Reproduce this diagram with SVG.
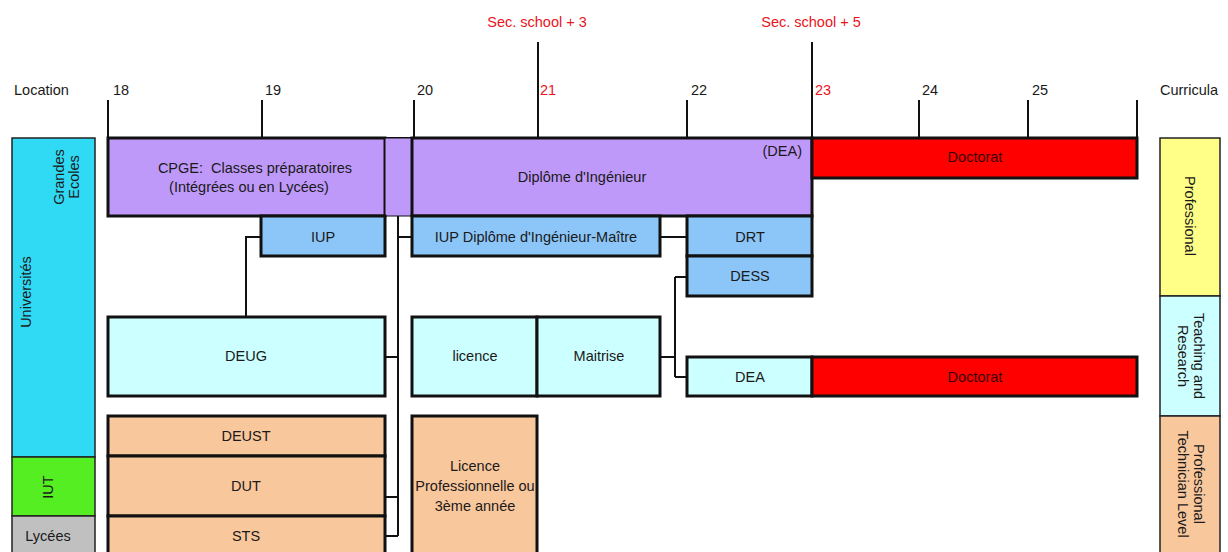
<svg xmlns="http://www.w3.org/2000/svg" width="1228" height="552" viewBox="0 0 1228 552">
<style>
text{font-family:"Liberation Sans",Arial,sans-serif;font-size:14.5px;fill:#1a1a1a}
.c{text-anchor:middle}
.pre{white-space:pre}
.red{fill:#e8141c}
.dr{fill:#3a0000}
.box{stroke:#111;stroke-width:3}
.side{stroke:#222;stroke-width:1.5}
.tick{stroke:#111;stroke-width:2;fill:none}
.con{stroke:#111;stroke-width:2;fill:none}
.purple{fill:#bf99f9}
.blue{fill:#8cc6f8}
.cyan{fill:#ccffff}
.peach{fill:#f9c79c}
.redf{fill:#ff0000}
</style>
<rect width="1228" height="552" fill="#fff"/>
<g id="axis">
<path class="tick" d="M108,138 H1137 M108,100 V138 M262,100 V138 M414,100 V138 M538,42 V138 M687,100 V138 M812,42 V138 M919,100 V138 M1028,100 V138 M1137,100 V138"/>
<text x="14" y="95">Location</text>
<text x="113" y="95">18</text>
<text x="265" y="95">19</text>
<text x="417" y="95">20</text>
<text x="540" y="95" class="red">21</text>
<text x="691" y="95">22</text>
<text x="815" y="95" class="red">23</text>
<text x="922" y="95">24</text>
<text x="1032" y="95">25</text>
<text x="1160" y="95">Curricula</text>
<text x="537" y="27" class="c red">Sec. school + 3</text>
<text x="811" y="27" class="c red">Sec. school + 5</text>
</g>
<g id="connectors">
<path class="con" d="M246,317 V237 H261"/>
<path class="con" d="M398,216 V536 M398,237 H412 M385,357 H398 M385,497 H398 M385,536 H398"/>
<path class="con" d="M660,237 H687"/>
<path class="con" d="M660,357 H675 M675,277 V377 M675,277 H687 M675,377 H687"/>
</g>
<g id="loc-universites">
<rect x="12" y="138" width="83" height="319" fill="#30daf5" class="side"/>
<text transform="translate(31,292) rotate(-90)" class="c">Universités</text>
<text transform="translate(64,177) rotate(-90)" class="c">Grandes</text>
<text transform="translate(79,177) rotate(-90)" class="c">Ecoles</text>
</g>
<g id="loc-iut">
<rect x="12" y="457" width="83" height="59" fill="#55ee22" class="side"/>
<text transform="translate(53,487) rotate(-90)" class="c">IUT</text>
</g>
<g id="loc-lycees">
<rect x="12" y="516" width="83" height="44" fill="#c0c0c0" class="side"/>
<text x="48" y="541" class="c">Lycées</text>
</g>
<g id="cpge">
<rect x="108" y="138" width="277" height="78" class="box purple"/>
<text x="255" y="173" class="c pre">CPGE:  Classes préparatoires</text>
<text x="249" y="192" class="c">(Intégrées ou en Lycées)</text>
</g>
<g id="purple-link">
<rect x="385" y="138" width="27" height="78" class="purple" stroke="#111" stroke-width="1"/>
</g>
<g id="diplome-ingenieur">
<rect x="412" y="138" width="400" height="78" class="box purple"/>
<text x="582" y="182" class="c">Diplôme d'Ingénieur</text>
<text x="802" y="156" text-anchor="end">(DEA)</text>
</g>
<g id="doctorat-1">
<rect x="812" y="138" width="325" height="40" class="box redf"/>
<text x="975" y="162" class="c dr">Doctorat</text>
</g>
<g id="iup">
<rect x="261" y="216" width="124" height="40" class="box blue"/>
<text x="323" y="242" class="c">IUP</text>
</g>
<g id="iup-dim">
<rect x="412" y="216" width="248" height="40" class="box blue"/>
<text x="536" y="242" class="c">IUP Diplôme d'Ingénieur-Maître</text>
</g>
<g id="drt">
<rect x="687" y="216" width="125" height="40" class="box blue"/>
<text x="750" y="242" class="c">DRT</text>
</g>
<g id="dess">
<rect x="687" y="256" width="125" height="40" class="box blue"/>
<text x="750" y="281" class="c">DESS</text>
</g>
<g id="deug">
<rect x="108" y="317" width="277" height="79" class="box cyan"/>
<text x="246" y="361" class="c">DEUG</text>
</g>
<g id="licence">
<rect x="412" y="317" width="125" height="79" class="box cyan"/>
<text x="475" y="361" class="c">licence</text>
</g>
<g id="maitrise">
<rect x="537" y="317" width="123" height="79" class="box cyan"/>
<text x="599" y="361" class="c">Maitrise</text>
</g>
<g id="dea">
<rect x="687" y="357" width="125" height="39" class="box cyan"/>
<text x="750" y="382" class="c">DEA</text>
</g>
<g id="doctorat-2">
<rect x="812" y="357" width="325" height="39" class="box redf"/>
<text x="975" y="382" class="c dr">Doctorat</text>
</g>
<g id="deust">
<rect x="108" y="416" width="277" height="40" class="box peach"/>
<text x="246" y="441" class="c">DEUST</text>
</g>
<g id="dut">
<rect x="108" y="456" width="277" height="60" class="box peach"/>
<text x="246" y="491" class="c">DUT</text>
</g>
<g id="sts">
<rect x="108" y="516" width="277" height="44" class="box peach"/>
<text x="246" y="541" class="c">STS</text>
</g>
<g id="licence-pro">
<rect x="412" y="416" width="125" height="144" class="box peach"/>
<text x="475" y="471" class="c">Licence</text>
<text x="475" y="491" class="c">Professionnelle ou</text>
<text x="475" y="511" class="c">3ème année</text>
</g>
<g id="cur-professional">
<rect x="1160" y="138" width="60" height="158" fill="#ffff88" class="side"/>
<text transform="translate(1185,216) rotate(90)" class="c">Professional</text>
</g>
<g id="cur-teaching">
<rect x="1160" y="296" width="60" height="120" fill="#ccffff" class="side"/>
<text transform="translate(1194,356) rotate(90)" class="c">Teaching and</text>
<text transform="translate(1178,356) rotate(90)" class="c">Research</text>
</g>
<g id="cur-technician">
<rect x="1160" y="416" width="60" height="144" fill="#f9c79c" class="side"/>
<text transform="translate(1194,484) rotate(90)" class="c">Professional</text>
<text transform="translate(1178,484) rotate(90)" class="c">Technician Level</text>
</g>
</svg>
